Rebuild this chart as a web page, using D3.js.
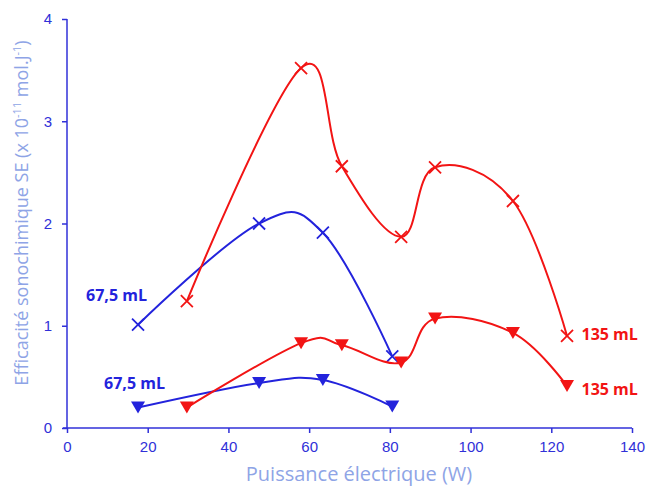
<!DOCTYPE html>
<html><head><meta charset="utf-8">
<script src="https://cdn.jsdelivr.net/npm/d3@7/dist/d3.min.js"></script>
<style>body{margin:0;background:#fff}svg{display:block}</style>
</head><body>
<svg id="c" width="650" height="490"></svg>
<script>
const xTicks = [0,20,40,60,80,100,120,140];
const yTicks = [0,1,2,3,4];
const blueX = [17.6,47.6,63.4,80.6];
const blueCross = [1.01,2.00,1.91,0.70];
const blueTri = [0.20,0.44,0.47,0.21];
const redX = [29.7,58.0,68.1,82.8,91.2,110.5,123.9];
const redCross = [1.24,3.52,2.56,1.87,2.55,2.22,0.90];
const redTri = [0.20,0.83,0.81,0.64,1.07,0.93,0.41];
const xTitle = "Puissance électrique (W)";
const labels = [
  {text:"67,5 mL", x:17.6, y:1.01, dx:-52, dy:-29, color:"blue"},
  {text:"67,5 mL", x:17.6, y:0.20, dx:-34, dy:-24.5, color:"blue"},
  {text:"135 mL", x:123.9, y:0.90, dx:14.5, dy:-2, color:"red"},
  {text:"135 mL", x:123.9, y:0.41, dx:14.5, dy:3, color:"red"}
];
const BLUE="#2323dc", RED="#f21414", AXIS="#3030d8", TITLE="#8ea4e6";

const svg = d3.select("#c");
const x = d3.scaleLinear().domain([0,140]).range([67,632]);
const y = d3.scaleLinear().domain([0,4]).range([428,19]);

// axes
const xa = svg.append("g").attr("transform","translate(0,428)")
  .call(d3.axisBottom(x).tickValues(xTicks).tickSize(5).tickPadding(8));
const ya = svg.append("g").attr("transform","translate(67,0)")
  .call(d3.axisLeft(y).tickValues(yTicks).tickSize(5).tickPadding(10).tickFormat(d3.format("d")));
[xa,ya].forEach(a=>{
  a.selectAll("path,line").attr("stroke",AXIS).attr("stroke-width",1.5);
  a.selectAll("text").attr("fill",AXIS).style("font-family","Liberation Sans, Arial, sans-serif").style("font-size","15px");
});
xa.select(".domain").attr("d","M"+(x(0)-4)+",0H"+x(140));
ya.select(".domain").attr("d","M0,"+y(0)+"V"+y(4));

// titles
svg.append("text").attr("x",359).attr("y",481).attr("text-anchor","middle")
  .attr("fill",TITLE).style("font-family","Open Sans, sans-serif").style("font-size","20px").text(xTitle);
const yt = svg.append("text").attr("transform","translate(28,213) rotate(-90)").attr("text-anchor","middle")
  .attr("fill",TITLE).style("font-family","Open Sans, sans-serif").style("font-size","18px");
yt.append("tspan").text("Efficacité sonochimique SE (x 10");
yt.append("tspan").attr("dy",-7).style("font-size","11px").text("-11");
yt.append("tspan").attr("dy",7).text(" mol.J");
yt.append("tspan").attr("dy",-7).style("font-size","11px").text("-1");
yt.append("tspan").attr("dy",7).text(")");

const line = d3.line().x(d=>x(d[0])).y(d=>y(d[1])).curve(d3.curveCardinal.tension(-0.12));
function series(xs, ys, color, marker){
  const pts = xs.map((v,i)=>[v,ys[i]]);
  svg.append("path").datum(pts).attr("d",line).attr("fill","none").attr("stroke",color).attr("stroke-width",2);
  const g = svg.append("g");
  pts.forEach(p=>{
    const cx=x(p[0]), cy=y(p[1]);
    if(marker==="x"){
      g.append("path").attr("d",`M${cx-6},${cy-6}L${cx+6},${cy+6}M${cx-6},${cy+6}L${cx+6},${cy-6}`)
        .attr("stroke",color).attr("stroke-width",1.8).attr("fill","none");
    } else {
      g.append("path").attr("d",`M${cx-7},${cy-6}L${cx+7},${cy-6}L${cx},${cy+6}Z`).attr("fill",color);
    }
  });
}
series(blueX, blueCross, BLUE, "x");
series(blueX, blueTri, BLUE, "tri");
series(redX, redCross, RED, "x");
series(redX, redTri, RED, "tri");

labels.forEach(l=>{
  svg.append("text").attr("x",x(l.x)+l.dx).attr("y",y(l.y)+l.dy).attr("dy","0.35em")
    .attr("text-anchor","start").attr("fill",l.color==="blue"?BLUE:RED)
    .style("font-family","Open Sans, sans-serif").style("font-weight","bold").style("font-size","16px").text(l.text);
});
</script>
</body></html>
